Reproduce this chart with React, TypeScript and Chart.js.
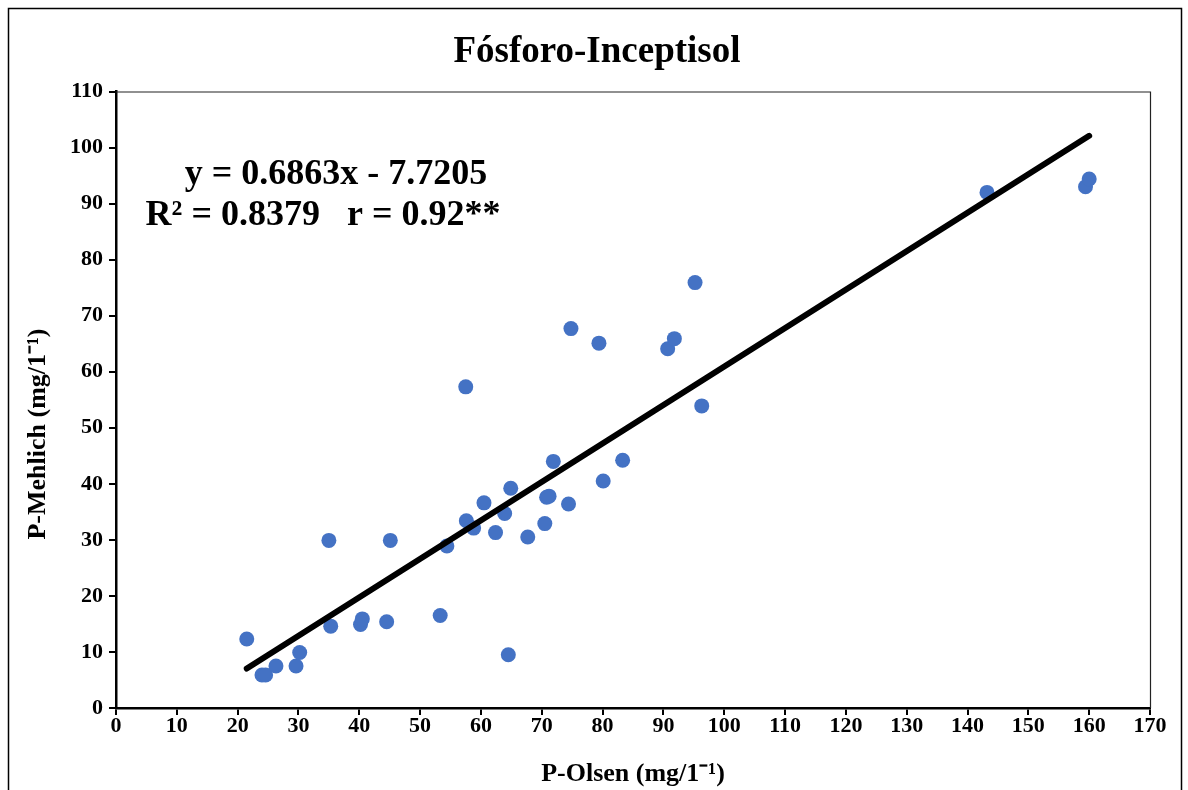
import React, { useEffect, useRef } from "react";
import { Chart, registerables } from "chart.js";

Chart.register(...registerables);

const TITLE = "Fósforo-Inceptisol";
const X_TITLE = "P-Olsen (mg/1⁻¹)";
const Y_TITLE = "P-Mehlich (mg/1⁻¹)";
const EQUATION_LINES = ["y = 0.6863x - 7.7205", "R² = 0.8379   r = 0.92**"];

// Observed points (P-Olsen on x, P-Mehlich on y)
const pOlsen = [
  21.5, 24.0, 24.6, 26.3, 29.6, 30.2, 35.3, 35.0, 40.2, 40.5, 44.5, 45.1, 53.3,
  54.4, 57.6, 58.8, 57.5, 60.5, 62.4, 63.9, 64.5, 64.9, 67.7, 70.5, 70.8, 71.2,
  71.9, 74.4, 74.8, 79.4, 80.1, 83.3, 90.7, 91.8, 95.2, 96.3, 143.2, 159.4, 160.0,
];
const pMehlich = [
  12.3, 5.9, 5.9, 7.5, 7.5, 9.9, 14.6, 29.9, 14.9, 15.9, 15.4, 29.9, 16.5,
  28.9, 33.4, 32.1, 57.3, 36.6, 31.3, 34.7, 9.5, 39.2, 30.5, 32.9, 37.6, 37.8,
  44.0, 36.4, 67.7, 65.1, 40.5, 44.2, 64.1, 65.9, 75.9, 53.9, 92.0, 93.0, 94.4,
];

// Linear trend line end points
const trendX = [21.5, 160.0];
const trendY = [7.04, 102.09];

// Axis ranges: [min, max, step]
const xAxisRange = [0, 170, 10];
const yAxisRange = [0, 110, 10];

const FONT = "'Liberation Serif', 'Times New Roman', serif";

const framePlugin = {
  id: "frames",
  beforeDatasetsDraw(chart: any) {
    const { ctx, chartArea } = chart;
    const { left, right, top, bottom } = chartArea;
    ctx.save();
    ctx.strokeStyle = "#222";
    ctx.lineWidth = 1.2;
    ctx.beginPath();
    ctx.moveTo(left, top + 0.5);
    ctx.lineTo(right + 0.5, top + 0.5);
    ctx.lineTo(right + 0.5, bottom);
    ctx.stroke();
    ctx.restore();
  },
  afterDraw(chart: any) {
    const { ctx } = chart;
    ctx.save();
    // outer chart border
    ctx.strokeStyle = "#000";
    ctx.lineWidth = 1.5;
    ctx.strokeRect(8.5, 8.5, 1173, 820);
    // y axis title
    ctx.fillStyle = "#000";
    ctx.font = `bold 26px ${FONT}`;
    ctx.textAlign = "center";
    ctx.textBaseline = "middle";
    ctx.translate(38, 434);
    ctx.rotate(-Math.PI / 2);
    ctx.fillText(Y_TITLE, 0, 0);
    ctx.restore();

    // regression equation
    ctx.save();
    ctx.fillStyle = "#000";
    ctx.font = `bold 36px ${FONT}`;
    ctx.textAlign = "center";
    ctx.textBaseline = "alphabetic";
    ctx.fillText(EQUATION_LINES[0], 336, 184);
    ctx.fillText(EQUATION_LINES[1], 323, 225);
    ctx.restore();
  },
};

export default function App() {
  const ref = useRef<HTMLCanvasElement>(null);

  useEffect(() => {
    const canvas = ref.current;
    if (!canvas) return;
    const points = pOlsen.map((x, i) => ({ x, y: pMehlich[i] }));
    const trend = trendX.map((x, i) => ({ x, y: trendY[i] }));
    const tickFont = { family: FONT, size: 22, weight: "bold" as const, lineHeight: 1 };

    const chart = new Chart(canvas, {
      type: "scatter",
      data: {
        datasets: [
          {
            label: "Linear",
            data: trend,
            showLine: true,
            borderColor: "#000",
            borderWidth: 6,
            borderCapStyle: "round",
            pointRadius: 0,
            pointHoverRadius: 0,
            fill: false,
          },
          {
            label: "P",
            data: points,
            backgroundColor: "#4472C4",
            borderColor: "#4472C4",
            borderWidth: 0,
            pointRadius: 7.5,
            pointHoverRadius: 7.5,
          },
        ],
      },
      options: {
        animation: false,
        responsive: false,
        devicePixelRatio: 1,
        layout: { padding: { top: 0, left: 44, right: 38, bottom: 0 } },
        plugins: {
          legend: { display: false },
          tooltip: { enabled: false },
          title: {
            display: true,
            text: TITLE,
            color: "#000",
            font: { family: FONT, size: 37, weight: "bold", lineHeight: 1.2 },
            padding: { top: 30.6, bottom: 16.5 },
          },
        },
        scales: {
          x: {
            type: "linear",
            min: xAxisRange[0],
            max: xAxisRange[1],
            ticks: {
              stepSize: xAxisRange[2],
              color: "#000",
              font: tickFont,
              padding: 0,
              maxRotation: 0,
              autoSkip: false,
            },
            grid: {
              drawOnChartArea: false,
              drawTicks: true,
              tickLength: 7,
              color: "#000",
              lineWidth: 2,
            },
            border: { display: true, color: "#000", width: 2.5 },
            title: {
              display: true,
              text: X_TITLE,
              color: "#000",
              font: { family: FONT, size: 26, weight: "bold", lineHeight: 1.2 },
              padding: { top: 0, bottom: 0 },
            },
            afterFit(scale: any) {
              scale.height = 82;
            },
          },
          y: {
            type: "linear",
            min: yAxisRange[0],
            max: yAxisRange[1],
            ticks: {
              stepSize: yAxisRange[2],
              color: "#000",
              font: tickFont,
              padding: 6,
              autoSkip: false,
            },
            grid: {
              drawOnChartArea: false,
              drawTicks: true,
              tickLength: 7,
              color: "#000",
              lineWidth: 2,
            },
            border: { display: true, color: "#000", width: 2.5 },
            title: { display: false },
            afterFit(scale: any) {
              scale.width = 72;
            },
          },
        },
      },
      plugins: [framePlugin],
    });
    return () => chart.destroy();
  }, []);

  return (
    <canvas
      ref={ref}
      width={1188}
      height={790}
      style={{ position: "fixed", left: 0, top: 0, width: 1188, height: 790, display: "block" }}
    />
  );
}
